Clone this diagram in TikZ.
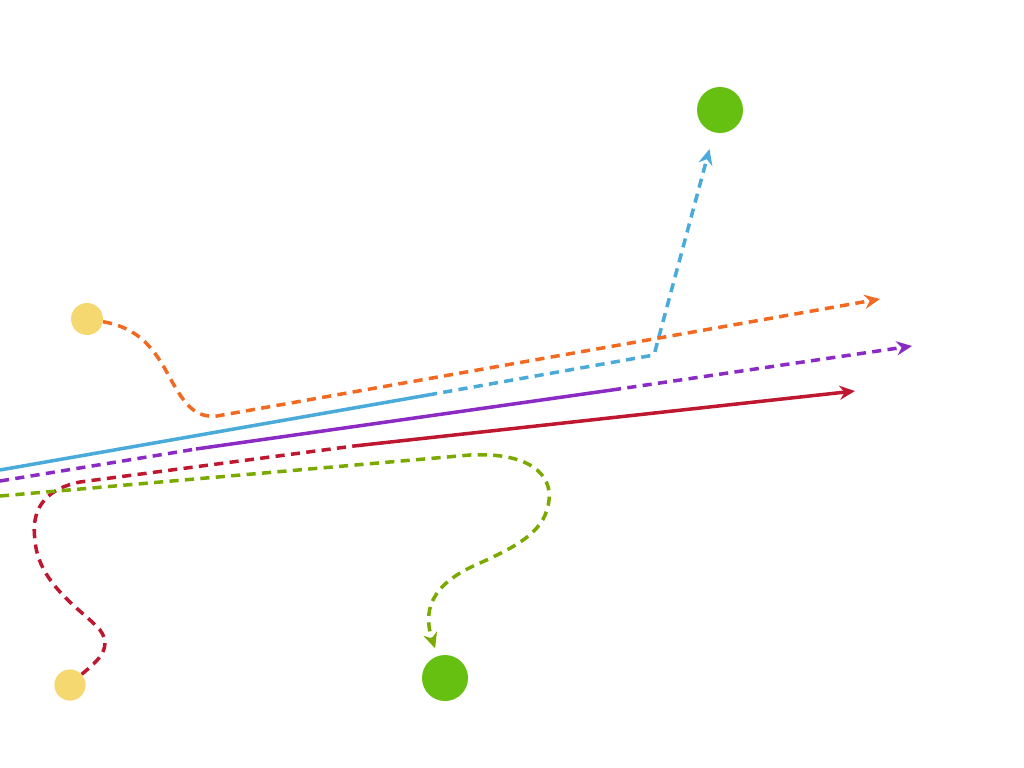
\documentclass[tikz,border=0pt]{standalone}
\usepackage{xcolor}
\definecolor{rtblue}{RGB}{74,170,218}
\definecolor{rtorange}{RGB}{242,106,33}
\definecolor{rtpurple}{RGB}{139,43,196}
\definecolor{rtred}{RGB}{190,24,48}
\definecolor{rtolive}{RGB}{122,170,0}
\definecolor{rtgreen}{RGB}{102,192,18}
\definecolor{rtyellow}{RGB}{246,216,112}
\usetikzlibrary{arrows.meta,positioning}

\begin{document}
\begin{tikzpicture}[x=0.025cm,y=-0.025cm,
  route/.style={line width=2.5pt},
  dashy/.style={route,dash pattern=on 6.5pt off 4.5pt},
  arr/.style={-{Stealth[length=11pt,width=10pt]}},
  src/.style={circle,fill=rtyellow,inner sep=0pt,minimum size=0.8cm},
  dst/.style={circle,fill=rtgreen,inner sep=0pt,minimum size=1.15cm}]
  \useasboundingbox (0,0) rectangle (1024,768);
  % Start and goal points
  \node[src] (y1) at (87,319) {};
  \node[src,minimum size=0.78cm] (y2) at (70,685) {};
  \node[dst] (g1) at (720,110) {};
  \node[dst] (g2) at (445,678) {};
  % Free ends
  \coordinate (bL) at (0,470);
  \coordinate (bM) at (428,395);
  \coordinate (bC) at (654,355);
  \coordinate (oA) at (217,416);
  \coordinate (oT) at (880,299);
  \coordinate (pL) at (0,481);
  \coordinate (pA) at (196,449);
  \coordinate (pB) at (612,390);
  \coordinate (pT) at (912,346);
  \coordinate (rA) at (80,482);
  \coordinate (rS) at (354,446);
  \coordinate (rT) at (855,391);
  \coordinate (gL) at (0,496);
  \coordinate (gA) at (470,455);
  % Blue route
  \draw[route,rtblue] (bL) -- (bM);
  \draw[dashy,rtblue,arr,rounded corners=2pt,shorten >=0.43cm] (bM) -- (bC) -- (g1);
  % Orange route
  \draw[dashy,rtorange,arr] (y1) .. controls (140,328) and (155,350) .. (170,378)
    .. controls (185,405) and (195,418) .. (oA) -- (oT);
  % Purple route
  \draw[dashy,rtpurple] (pL) -- (pA);
  \draw[route,rtpurple] (pA) -- (pB);
  \draw[dashy,rtpurple,arr] (pB) -- (pT);
  % Red route
  \draw[dashy,rtred] (y2) .. controls (92,665) and (115,650) .. (100,630)
    .. controls (85,612) and (38,585) .. (35,540)
    .. controls (30,505) and (50,488) .. (rA) -- (rS);
  \draw[route,rtred,arr] (rS) -- (rT);
  % Green route
  \draw[dashy,rtolive,arr,shorten >=0.2cm] (gL) -- (gA)
    .. controls (530,452) and (552,475) .. (549,500)
    .. controls (546,530) and (520,545) .. (480,563)
    .. controls (440,580) and (420,603) .. (g2);
\end{tikzpicture}
\end{document}
